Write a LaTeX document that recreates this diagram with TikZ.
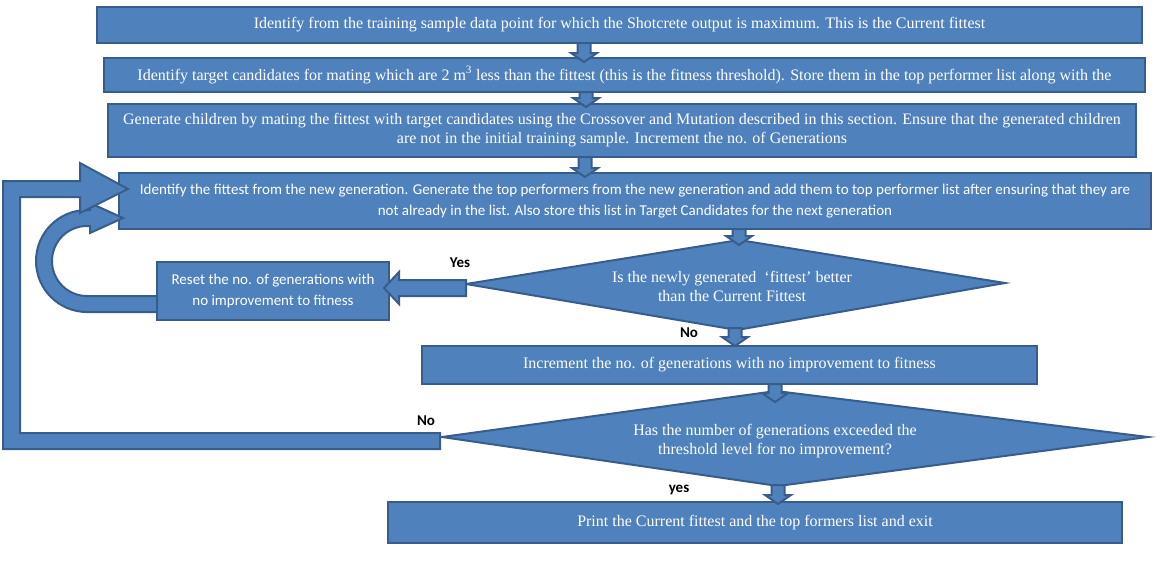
\documentclass[tikz,border=0pt]{standalone}
\usepackage{fontspec}
\setmainfont{Liberation Serif}
\newfontfamily\calfont{Carlito}
\definecolor{boxfill}{HTML}{4F81BD}
\definecolor{boxline}{HTML}{385D8A}
\newcommand\blkdown[3]{%
  \filldraw[shp] ({#1-6.5},{-(#2)}) -- ({#1+6.5},{-(#2)}) -- ({#1+6.5},{-(#3-9)}) -- ({#1+13},{-(#3-9)})
    -- ({#1},{-(#3)}) -- ({#1-13},{-(#3-9)}) -- ({#1-6.5},{-(#3-9)}) -- cycle;}
\begin{document}
\begin{tikzpicture}[x=1pt,y=1pt,
  shp/.style={draw=boxline, fill=boxfill, line width=2pt, line join=miter},
  box/.style={shp, text=white, align=center, inner sep=0pt, font=\fontsize{16}{19}\selectfont},
  calbox/.style={box, font=\calfont\fontsize{15}{21}\selectfont},
  dtext/.style={text=white, align=center, inner sep=0pt, font=\fontsize{16}{19}\selectfont},
  lbl/.style={font=\calfont\bfseries\fontsize{15}{17}\selectfont, inner sep=0pt}]
\useasboundingbox (0,0) rectangle (1162,-560);

% boxes
\node[box, minimum width=1045, minimum height=36] (b1) at (619.5,-25)
  {Identify from the training sample data point for which the Shotcrete output is maximum. This is the Current fittest};
\node[box, minimum width=1041, minimum height=34] (b2) at (624.5,-75)
  {Identify target candidates for mating which are 2 m\textsuperscript{3} less than the fittest (this is the fitness threshold). Store them in the top performer list along with the};
\node[box, minimum width=1028, minimum height=53] (b3) at (622,-130.5)
  {Generate children by mating the fittest with target candidates using the Crossover and Mutation described in this section. Ensure that the generated children\\are not in the initial training sample. Increment the no. of Generations};
\node[calbox, minimum width=1032, minimum height=56] (b4) at (635,-201)
  {Identify the fittest from the new generation. Generate the top performers from the new generation and add them to top performer list after ensuring that they are\\not already in the list. Also store this list in Target Candidates for the next generation};
\node[calbox, minimum width=232, minimum height=58] (reset) at (273,-291)
  {Reset the no. of generations with\\no improvement to fitness};
\node[box, minimum width=615, minimum height=38] (b5) at (729.5,-365)
  {Increment the no. of generations with no improvement to fitness};
\node[box, minimum width=734, minimum height=41] (b6) at (755,-522.5)
  {Print the Current fittest and the top formers list and exit};

% decision 1
\coordinate (d1l) at (466,-284);
\coordinate (d1t) at (739,-240);
\coordinate (d1r) at (1005,-283);
\coordinate (d1b) at (737,-330);
\filldraw[shp] (d1l) -- (d1t) -- (d1r) -- (d1b) -- cycle;
\node[dtext] (d1) at (732,-286) {Is the newly generated\ \ `fittest' better\\than the Current Fittest};

% decision 2
\coordinate (d2l) at (442,-437);
\coordinate (d2t) at (776,-391);
\coordinate (d2r) at (1148,-437);
\coordinate (d2b) at (778,-486);
\filldraw[shp] (d2l) -- (d2t) -- (d2r) -- (d2b) -- cycle;
\node[dtext] (d2) at (775,-441) {Has the number of generations exceeded the\\threshold level for no improvement?};

% small down arrows
\blkdown{584}{43}{62}
\blkdown{586}{92}{107}
\blkdown{585}{157}{177}
\blkdown{739}{229}{245}
\blkdown{735}{328}{346}
\blkdown{775}{384}{402}
\blkdown{778}{485}{504}

% Yes arrow to reset box
\filldraw[shp] (466,-280) -- (399,-280) -- (399,-272) -- (384,-288) -- (399,-304) -- (399,-296) -- (466,-296) -- cycle;

% U-turn arrow from reset box back to box 4
\filldraw[shp] (157,-312) -- (87,-312) arc[start angle=270, end angle=90, radius=51]
  -- (90,-210) -- (90,-203) -- (123,-218) -- (90,-233) -- (90,-226) -- (87,-226)
  arc[start angle=90, end angle=270, radius=35] -- (157,-296) -- cycle;

% big loop arrow from decision 2 back to box 4
\filldraw[shp] (440,-433) -- (20,-433) -- (20,-197) -- (80,-197) -- (80,-213) -- (128,-189)
  -- (80,-163) -- (80,-181) -- (3,-181) -- (3,-449) -- (440,-449) -- cycle;

% labels
\node[lbl] (yes1) at (460,-263) {Yes};
\node[lbl] (no1) at (689,-333) {No};
\node[lbl] (no2) at (426,-421) {No};
\node[lbl] (yes2) at (679,-490) {yes};
\end{tikzpicture}
\end{document}
